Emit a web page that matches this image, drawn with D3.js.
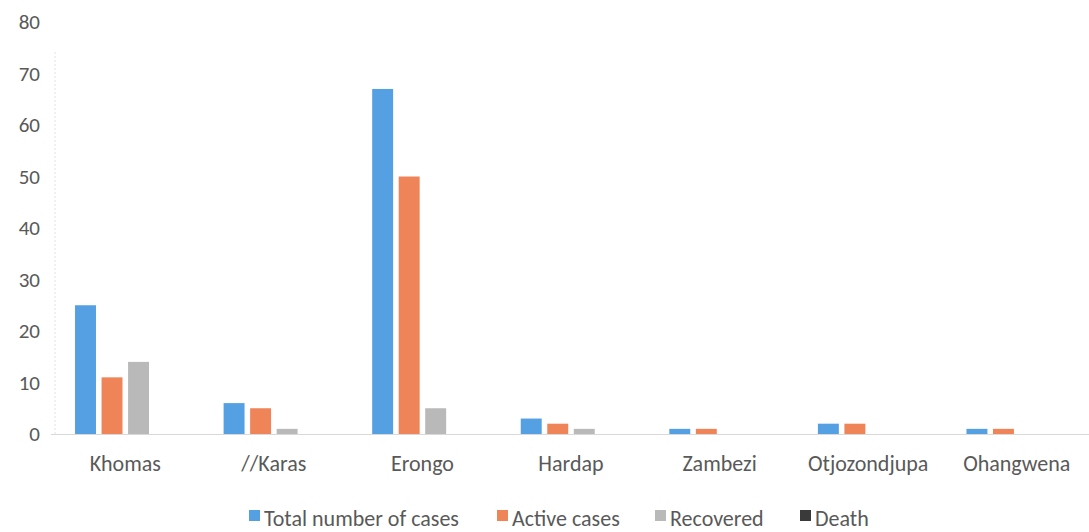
<!DOCTYPE html>
<html>
<head>
<meta charset="utf-8">
<script src="https://cdn.jsdelivr.net/npm/d3@7"></script>
<style>
  html, body { margin: 0; padding: 0; background: #fff; }
  svg { display: block; font-family: Carlito, "Open Sans", "Noto Sans", sans-serif; }
</style>
</head>
<body>
<svg id="chart" width="1089" height="532"></svg>
<script>
const categories = ["Khomas", "//Karas", "Erongo", "Hardap", "Zambezi", "Otjozondjupa", "Ohangwena"];
const seriesNames = ["Total number of cases", "Active cases", "Recovered", "Death"];
const totalCases = [25, 6, 67, 3, 1, 2, 1];
const activeCases = [11, 5, 50, 2, 1, 2, 1];
const recovered = [14, 1, 5, 1, 0, 0, 0];
const deaths = [0, 0, 0, 0, 0, 0, 0];
const yTicks = [0, 10, 20, 30, 40, 50, 60, 70, 80];
const colors = ["#55a0e2", "#ef8458", "#b9b9b9", "#3a3a3a"];

const seriesValues = [totalCases, activeCases, recovered, deaths];
const data = categories.map((c, i) => ({
  cat: c,
  vals: seriesNames.map((s, j) => ({ key: s, value: seriesValues[j][i] }))
}));

const FONT = 'Carlito, "Open Sans", "Noto Sans", sans-serif';
const svg = d3.select("#chart");
const plotLeft = 51, plotRight = 1091, plotTop = 22, plotBottom = 434;

const x0 = d3.scaleBand().domain(categories).range([plotLeft, plotRight]).paddingInner(0).paddingOuter(0);
const groupW = 100.5;
const x1 = d3.scaleBand().domain(seriesNames).range([0, groupW]).paddingInner(0.21).paddingOuter(0);
const y = d3.scaleLinear().domain([0, 80]).range([plotBottom, plotTop]);
const color = d3.scaleOrdinal().domain(seriesNames).range(colors);

// vertical axis line (faint)
svg.append("line")
  .attr("x1", 55).attr("x2", 55).attr("y1", plotTop + 30).attr("y2", plotBottom)
  .attr("stroke", "#e2e2e2").attr("stroke-width", 1).attr("stroke-dasharray", "2,2");

// y axis labels
const yAxis = d3.axisLeft(y).tickValues(yTicks).tickSize(0).tickPadding(0);
const gy = svg.append("g").attr("transform", `translate(40,0)`).call(yAxis);
gy.select(".domain").remove();
gy.selectAll("text").attr("font-size", 21).attr("fill", "#595959").attr("font-family", FONT);

// bars
const groups = svg.append("g").selectAll("g").data(data).join("g")
  .attr("transform", d => `translate(${x0(d.cat) + x0.bandwidth() / 2 - groupW / 2},0)`);
groups.selectAll("rect").data(d => d.vals).join("rect")
  .attr("x", d => x1(d.key))
  .attr("width", x1.bandwidth())
  .attr("y", d => y(d.value))
  .attr("height", d => y(0) - y(d.value))
  .attr("fill", d => color(d.key));

// baseline
svg.append("line")
  .attr("x1", plotLeft).attr("x2", 1089).attr("y1", plotBottom + 0.5).attr("y2", plotBottom + 0.5)
  .attr("stroke", "#d9d9d9").attr("stroke-width", 1);

// x axis labels
const xAxis = d3.axisBottom(x0).tickSize(0).tickPadding(0);
const gx = svg.append("g").attr("transform", `translate(0,${plotBottom + 21})`).call(xAxis);
gx.select(".domain").remove();
gx.selectAll("text").attr("font-size", 22).attr("fill", "#595959").attr("font-family", FONT);

// legend
const legendX = [249, 497, 655, 800];
const legend = svg.append("g").selectAll("g").data(seriesNames).join("g")
  .attr("transform", (d, i) => `translate(${legendX[i]},510)`);
legend.append("rect").attr("x", 0).attr("y", 0).attr("width", 11).attr("height", 11)
  .attr("fill", d => color(d));
legend.append("text").attr("x", 15).attr("y", 16).attr("font-size", 22)
  .attr("fill", "#595959").attr("font-family", FONT).text(d => d);
</script>
</body>
</html>
